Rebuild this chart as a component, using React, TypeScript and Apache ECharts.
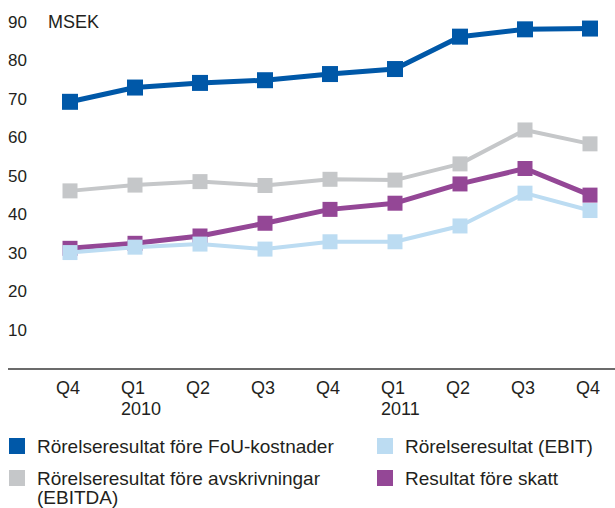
import React, { useEffect, useRef } from "react";
import * as echarts from "echarts";

const categories = ["Q4", "Q1\n2010", "Q2", "Q3", "Q4", "Q1\n2011", "Q2", "Q3", "Q4"];
const fouValues = [69.3, 73.0, 74.2, 74.9, 76.5, 77.8, 86.2, 88.1, 88.3];
const ebitdaValues = [46.2, 47.7, 48.6, 47.6, 49.2, 49.0, 53.2, 62.0, 58.4];
const ebitValues = [30.2, 31.6, 32.4, 31.1, 33.0, 33.0, 37.1, 45.6, 41.1];
const skattValues = [31.3, 32.6, 34.5, 37.8, 41.4, 43.0, 48.0, 52.0, 45.1];
const yTicks = [10, 20, 30, 40, 50, 60, 70, 80, 90];

const FONT = "'Liberation Sans', Arial, Helvetica, sans-serif";
const TEXT = "#231f20";
const C_BLUE = "#0058a8";
const C_GRAY = "#c5c7c9";
const C_LBLUE = "#bcdcf2";
const C_PURPLE = "#944796";

export default function App() {
  const ref = useRef<HTMLDivElement>(null);
  useEffect(() => {
    if (!ref.current) return;
    const chart = echarts.init(ref.current, null, { renderer: "svg" });
    const mk = (name: string, data: number[], color: string, lw: number, size: number, z: number) => ({
      name,
      type: "line",
      data,
      z,
      symbol: "rect",
      symbolSize: size,
      showSymbol: true,
      lineStyle: { color, width: lw },
      itemStyle: { color },
    });
    const legendText = (x: number, y: number, label: string) => ({
      type: "text",
      x,
      y,
      style: { text: label, fill: TEXT, font: `19px ${FONT}`, verticalAlign: "middle" },
    });
    const legendItem = (x: number, y: number, color: string, label: string) => [
      { type: "rect", shape: { x, y, width: 16, height: 16 }, style: { fill: color } },
      legendText(x + 28, y + 8, label),
    ];
    chart.setOption({
      animation: false,
      grid: { left: 70, right: 25, top: 22, height: 347 },
      xAxis: {
        type: "category",
        data: categories,
        boundaryGap: false,
        axisLine: { show: false },
        axisTick: { show: false },
        axisLabel: {
          color: TEXT,
          fontFamily: FONT,
          fontSize: 18,
          lineHeight: 21,
          margin: 8,
          verticalAlign: "top",
          interval: 0,
          align: "left",
          padding: [0, 0, 0, -14],
        },
      },
      yAxis: {
        type: "value",
        min: 0,
        max: 90,
        interval: 10,
        splitLine: { show: false },
        axisLine: { show: false },
        axisTick: { show: false },
        axisLabel: {
          color: TEXT,
          fontFamily: FONT,
          fontSize: 17,
          align: "left",
          margin: 62,
          formatter: (v: number) => (yTicks.includes(v) ? String(v) : ""),
        },
      },
      series: [
        mk("Resultat före skatt", skattValues, C_PURPLE, 5, 15, 2),
        mk("Rörelseresultat (EBIT)", ebitValues, C_LBLUE, 4, 15, 3),
        mk("Rörelseresultat före avskrivningar (EBITDA)", ebitdaValues, C_GRAY, 4, 15, 4),
        mk("Rörelseresultat före FoU-kostnader", fouValues, C_BLUE, 5, 16, 5),
      ],
      graphic: [
        { type: "line", shape: { x1: 8, y1: 369, x2: 615, y2: 369 }, style: { stroke: "#3a3a3a", lineWidth: 1.5 } },
        {
          type: "text",
          x: 48,
          y: 22,
          style: { text: "MSEK", fill: TEXT, font: `18px ${FONT}`, verticalAlign: "middle" },
        },
        ...legendItem(9, 438, C_BLUE, "Rörelseresultat före FoU-kostnader"),
        ...legendItem(377, 438, C_LBLUE, "Rörelseresultat (EBIT)"),
        ...legendItem(9, 470, C_GRAY, "Rörelseresultat före avskrivningar"),
        legendText(37, 497, "(EBITDA)"),
        ...legendItem(377, 470, C_PURPLE, "Resultat före skatt"),
      ],
    });
    return () => chart.dispose();
  }, []);
  return (
    <div
      ref={ref}
      style={{ position: "fixed", left: 0, top: 0, width: 615, height: 508, background: "#fff" }}
    />
  );
}
